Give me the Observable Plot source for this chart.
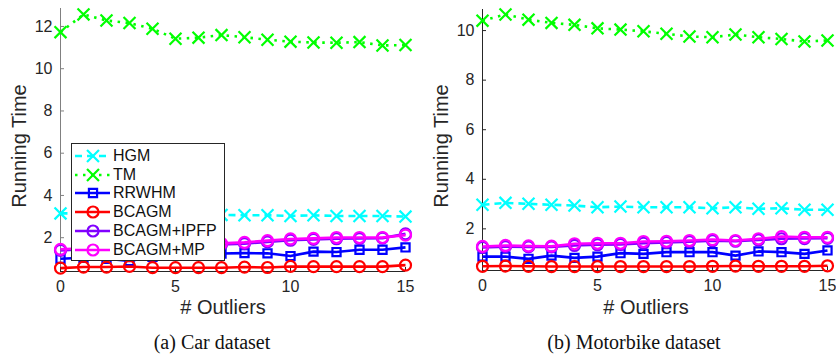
<!DOCTYPE html>
<html>
<head>
<meta charset="utf-8">
<script src="https://cdn.jsdelivr.net/npm/d3@7"></script>
<script src="https://cdn.jsdelivr.net/npm/@observablehq/plot@0.6"></script>
<style>
  body { margin: 0; background: #fff; }
  #wrap { position: relative; width: 836px; height: 358px; overflow: hidden; background: #fff; }
  .panel { position: absolute; top: 0; }
  .ylab { position: absolute; font-family: "Liberation Sans", Arial, sans-serif; font-size: 20px; color: #262626;
          transform: translate(-50%, -50%) rotate(-90deg); white-space: nowrap; }
  .xlab { position: absolute; font-family: "Liberation Sans", Arial, sans-serif; font-size: 20px; color: #262626;
          transform: translate(-50%, -50%); white-space: nowrap; }
  .cap { position: absolute; font-family: "Liberation Serif", "Times New Roman", serif; font-size: 20px; color: #111;
         transform: translate(-50%, -50%); white-space: nowrap; }
  .legend { position: absolute; background: #fff; border: 1px solid #262626; box-sizing: border-box;
            font-family: "Liberation Sans", Arial, sans-serif; font-size: 16px; color: #111; }
  .legend .row { position: absolute; left: 0; height: 18px; display: flex; align-items: center; }
  .legend svg { display: block; }
</style>
</head>
<body>
<div id="wrap"></div>
<script>
// ---------- data ----------
const outliers = [0, 1, 2, 3, 4, 5, 6, 7, 8, 9, 10, 11, 12, 13, 14, 15];
const methods = ["HGM", "TM", "RRWHM", "BCAGM", "BCAGM+IPFP", "BCAGM+MP"];

// (a) Car dataset
const carHGM   = [3.15, 3.15, 3.14, 3.12, 3.10, 3.10, 3.10, 3.08, 3.06, 3.06, 3.03, 3.06, 3.03, 3.03, 3.03, 3.00];
const carTM    = [11.73, 12.57, 12.28, 12.16, 11.89, 11.42, 11.47, 11.59, 11.49, 11.37, 11.28, 11.24, 11.23, 11.26, 11.10, 11.12];
const carRRWHM = [1.00, 1.05, 1.00, 0.90, 1.10, 1.15, 1.20, 1.25, 1.27, 1.26, 1.13, 1.34, 1.32, 1.43, 1.43, 1.54];
const carBCAGM = [0.56, 0.61, 0.61, 0.64, 0.58, 0.58, 0.58, 0.58, 0.61, 0.59, 0.64, 0.63, 0.63, 0.63, 0.63, 0.70];
const carIPFP  = [1.40, 1.45, 1.50, 1.55, 1.58, 1.60, 1.63, 1.68, 1.72, 1.80, 1.88, 1.92, 1.95, 1.96, 1.98, 2.18];
const carMP    = [1.45, 1.50, 1.55, 1.60, 1.62, 1.65, 1.68, 1.73, 1.78, 1.86, 1.94, 1.97, 2.01, 2.01, 2.01, 2.12];

// (b) Motorbike dataset
const mbHGM   = [2.97, 3.05, 3.01, 2.97, 2.94, 2.87, 2.90, 2.87, 2.87, 2.87, 2.83, 2.87, 2.81, 2.83, 2.77, 2.77];
const mbTM    = [10.40, 10.65, 10.44, 10.31, 10.23, 10.09, 10.04, 9.97, 9.87, 9.76, 9.73, 9.84, 9.73, 9.66, 9.56, 9.60];
const mbRRWHM = [0.88, 0.88, 0.79, 0.92, 0.83, 0.88, 1.02, 0.99, 1.06, 1.06, 1.06, 0.92, 1.09, 1.06, 0.99, 1.13];
const mbBCAGM = [0.49, 0.50, 0.49, 0.48, 0.48, 0.48, 0.48, 0.48, 0.48, 0.48, 0.49, 0.50, 0.49, 0.49, 0.49, 0.51];
const mbIPFP  = [1.25, 1.28, 1.27, 1.27, 1.33, 1.36, 1.37, 1.42, 1.45, 1.48, 1.52, 1.50, 1.55, 1.60, 1.61, 1.62];
const mbMP    = [1.29, 1.33, 1.31, 1.30, 1.40, 1.42, 1.42, 1.49, 1.50, 1.53, 1.57, 1.53, 1.60, 1.69, 1.66, 1.66];

const xTicks = [0, 5, 10, 15];
const carYTicks = [2, 4, 6, 8, 10, 12];
const mbYTicks = [2, 4, 6, 8, 10];
const xLabel = "# Outliers";
const yLabel = "Running Time";
const captions = ["(a) Car dataset", "(b) Motorbike dataset"];

// ---------- styles ----------
const styles = {
  "HGM":        {color: "#00ffff", symbol: "times",  r: 5.5, dash: "7,5"},
  "TM":         {color: "#00ff00", symbol: "times",  r: 5.5, dash: "2.5,5.5"},
  "RRWHM":      {color: "#0000ff", symbol: "square", r: 4.6, dash: null},
  "BCAGM":      {color: "#ff0000", symbol: "circle", r: 5.5, dash: null},
  "BCAGM+IPFP": {color: "#8000ff", symbol: "circle", r: 5.5, dash: null},
  "BCAGM+MP":   {color: "#ff00ff", symbol: "circle", r: 5.5, dash: null}
};

const wrap = document.getElementById("wrap");
const W = 418, H = 325;

function drawPanel(opts) {
  const {left, values, yDomain, yTicks, ml, mr, mt, mb, axisColor} = opts;
  const pxPerY = (H - mt - mb) / (yDomain[1] - yDomain[0]);
  const pxPerX = (W - ml - mr) / 15;
  const marks = [
    Plot.ruleX([0], {stroke: axisColor, strokeWidth: 1}),
    Plot.ruleY([yDomain[0]], {stroke: "#262626", strokeWidth: 1}),
    Plot.ruleY(yTicks, {x1: 0, x2: 4 / pxPerX, stroke: axisColor}),
    Plot.ruleX(xTicks, {y1: yDomain[0], y2: yDomain[0] + 4 / pxPerY, stroke: "#262626"}),
    Plot.axisY({ticks: yTicks, tickSize: 0, tickPadding: 8, label: null}),
    Plot.axisX({ticks: xTicks, tickSize: 0, tickPadding: 9, label: null})
  ];
  methods.forEach((m, k) => {
    const s = styles[m];
    const vals = values[k];
    const rows = vals.map((v, i) => ({x: outliers[i], y: v}));
    marks.push(Plot.line(rows, {x: "x", y: "y", stroke: s.color, strokeWidth: 2.6,
      strokeDasharray: s.dash || undefined, strokeLinecap: "butt", strokeLinejoin: "round"}));
    marks.push(Plot.dot(rows, {x: "x", y: "y", symbol: s.symbol, r: s.r, stroke: s.color,
      fill: "none", strokeWidth: 2.2}));
  });
  const svg = Plot.plot({
    width: W, height: H,
    marginLeft: ml, marginRight: mr, marginTop: mt, marginBottom: mb,
    x: {domain: [0, 15]},
    y: {domain: yDomain},
    style: {fontFamily: "'Liberation Sans', Arial, sans-serif", fontSize: "16px", color: "#262626", background: "transparent", overflow: "visible"},
    marks
  });
  const div = document.createElement("div");
  div.className = "panel";
  div.style.left = left + "px";
  div.appendChild(svg);
  wrap.appendChild(div);
}

drawPanel({left: 0, values: [carHGM, carTM, carRRWHM, carBCAGM, carIPFP, carMP],
  yDomain: [0.4, 12.85], yTicks: carYTicks, ml: 60, mr: 13, mt: 8, mb: 54, axisColor: "#808080"});
drawPanel({left: 418, values: [mbHGM, mbTM, mbRRWHM, mbBCAGM, mbIPFP, mbMP],
  yDomain: [0.32, 10.85], yTicks: mbYTicks, ml: 64, mr: 9, mt: 9, mb: 55, axisColor: "#262626"});

function addText(cls, text, x, y) {
  const d = document.createElement("div");
  d.className = cls;
  d.textContent = text;
  d.style.left = x + "px";
  d.style.top = y + "px";
  wrap.appendChild(d);
}
addText("ylab", yLabel, 19, 146);
addText("ylab", yLabel, 441, 146);
addText("xlab", xLabel, 223, 307);
addText("xlab", xLabel, 646, 307);
addText("cap", captions[0], 212, 342);
addText("cap", captions[1], 634, 342);

// ---------- legend (left panel) ----------
const leg = document.createElement("div");
leg.className = "legend";
leg.style.left = "71px";
leg.style.top = "143px";
leg.style.width = "154px";
leg.style.height = "118px";
const symbolPaths = {
  times: d3.symbol(d3.symbolTimes, Math.PI * 5.5 * 5.5)(),
  square: d3.symbol(d3.symbolSquare, Math.PI * 4.6 * 4.6)(),
  circle: d3.symbol(d3.symbolCircle, Math.PI * 5.5 * 5.5)()
};
methods.forEach((m, k) => {
  const s = styles[m];
  const row = document.createElement("div");
  row.className = "row";
  row.style.top = (3 + k * 18.7) + "px";
  row.innerHTML =
    `<svg width="40" height="18"><line x1="3" y1="9" x2="38" y2="9" stroke="${s.color}" stroke-width="2.6"` +
    (s.dash ? ` stroke-dasharray="${s.dash}"` : "") + `/>` +
    `<path d="${symbolPaths[s.symbol]}" transform="translate(21,9)" fill="none" stroke="${s.color}" stroke-width="2.2"/></svg>` +
    `<span style="margin-left:1px">${m}</span>`;
  leg.appendChild(row);
});
wrap.appendChild(leg);
</script>
</body>
</html>
